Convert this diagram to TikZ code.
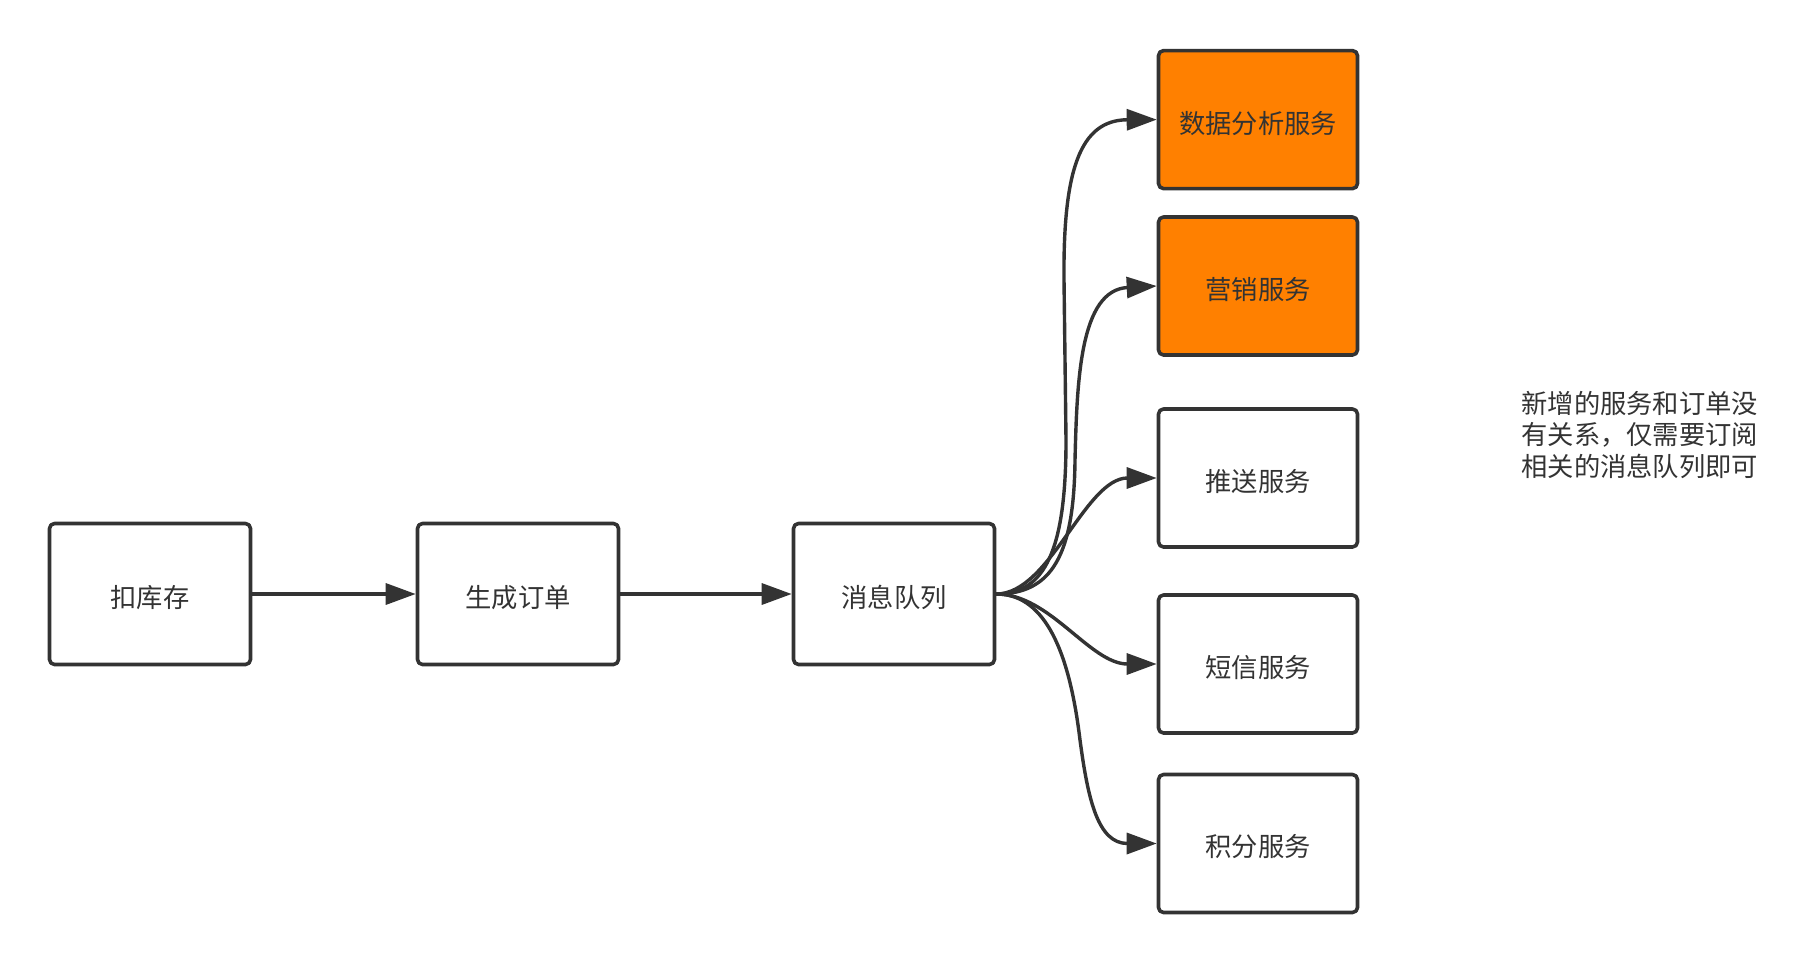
\documentclass[tikz,border=0pt]{standalone}
\usepackage{fontspec}
\newfontfamily\cjk{Noto Sans CJK SC}
\usetikzlibrary{arrows.meta}
\definecolor{ink}{HTML}{333333}
\definecolor{hot}{HTML}{FF8000}
\begin{document}
\begin{tikzpicture}[x=0.5pt,y=-0.5pt,line join=round,line cap=round,>={Triangle[length=15pt,width=10.5pt]}]
	\tikzset{every node/.style={font=\cjk\fontsize{13.15pt}{15.6pt}\selectfont,text=ink}}
	\tikzset{box/.style={draw=ink,line width=1.8pt,rounded corners=2.5pt,minimum width=100.5pt,minimum height=70.5pt,inner sep=0pt,text height=13.4pt,text depth=0pt}}
	\tikzset{svc/.style={box,minimum width=99.5pt,minimum height=69pt}}
	\tikzset{newsvc/.style={svc,fill=hot}}
	\tikzset{link/.style={draw=ink,line width=1.7pt,->}}
	\useasboundingbox (0,0) rectangle (1808,964);
	\node[box] (stock) at (150,594) {扣库存};
	\node[box] (order) at (518,594) {生成订单};
	\node[box] (mq) at (894,594) {消息队列};
	\node[newsvc] (ana) at (1258,119.6) {数据分析服务};
	\node[newsvc] (mkt) at (1258,286) {营销服务};
	\node[svc] (push) at (1258,478) {推送服务};
	\node[svc] (sms) at (1258,664) {短信服务};
	\node[svc] (pts) at (1258,843.5) {积分服务};
	\node[anchor=west,align=left,inner sep=0pt] (note) at (1521,435) {新增的服务和订单没\\有关系，仅需要订阅\\相关的消息队列即可};
	\draw[link] (stock) -- (order);
	\draw[link] (order) -- (mq);
	\draw[link] (mq.east) .. controls (1045,594) and (1066,550) .. (1066,440) -- (1064,280)
		.. controls (1063,170) and (1080,120) .. (ana.west);
	\draw[link] (mq.east) .. controls (1052,594) and (1074,555) .. (1075,460)
		.. controls (1077,380) and (1080,290) .. (mkt.west);
	\draw[link] (mq.east) .. controls (1050,594) and (1085,478) .. (push.west);
	\draw[link] (mq.east) .. controls (1050,594) and (1090,664) .. (sms.west);
	\draw[link] (mq.east) .. controls (1040,594) and (1068,640) .. (1080,740)
		.. controls (1088,800) and (1098,843.5) .. (pts.west);
\end{tikzpicture}
\end{document}
